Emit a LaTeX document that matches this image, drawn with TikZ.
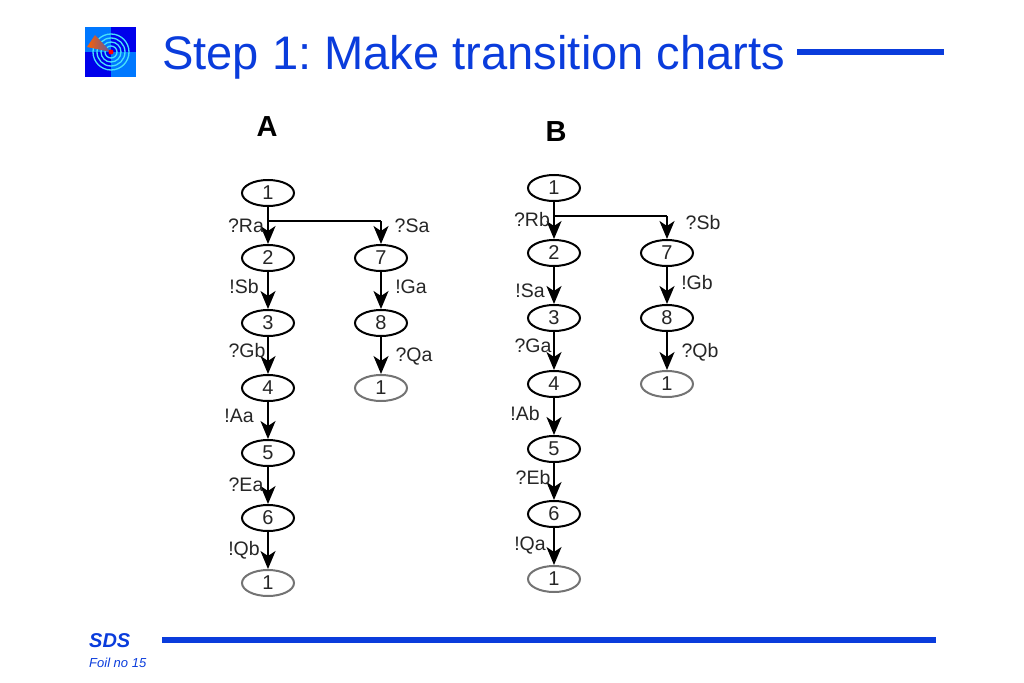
\documentclass[tikz,border=0pt]{standalone}
\usepackage{fontspec}
\setmainfont{Liberation Sans}
\usetikzlibrary{arrows.meta,shapes.geometric}
\definecolor{sdsblue}{RGB}{10,60,220}
\definecolor{logodark}{RGB}{0,0,235}
\definecolor{logolight}{RGB}{0,120,255}
\definecolor{logoring}{RGB}{70,225,250}
\frenchspacing
\tikzset{
  st/.style={ellipse,draw=black,line width=2pt,minimum width=52pt,minimum height=26pt,inner sep=0pt,font=\fontsize{20}{20}\selectfont,text=black!85},
  fin/.style={st,draw=black!55},
  lb/.style={font=\fontsize{19.5}{20}\selectfont,text=black!85,inner sep=0pt},
  hd/.style={font=\fontsize{29}{29}\selectfont\bfseries,inner sep=0pt},
  ar/.style={line width=2.2pt,-{Stealth[length=18pt,width=15pt,inset=5pt]}},
  br/.style={line width=2.2pt},
  ttl/.style={font=\fontsize{47.1}{47}\selectfont,text=sdsblue,inner sep=0pt,anchor=base west}
}
\begin{document}
\begin{tikzpicture}[x=1pt,y=-1pt]
\useasboundingbox (0,0) rectangle (1024,682);
% logo
\fill[logodark] (85,27) rectangle (136,77);
\fill[logolight] (85,27) rectangle (111,52);
\fill[logolight] (111,52) rectangle (136,77);
\foreach \r in {6,10,14,18}{\draw[logoring,line width=1.3pt] (111,52) circle (\r);}
\shade[left color=orange!75!red,right color=gray!70!blue] (95,35) -- (87,47) -- (111,52) -- cycle;
\fill[red] (111,52) circle (2.5);
% title
\node[ttl] (title) at (162,70) {Step 1: Make transition charts};
\coordinate (ruleA) at (797,52);
\coordinate (ruleB) at (944,52);
\draw[sdsblue,line width=5.5pt] (ruleA) -- (ruleB);
% footer
\node[font=\fontsize{20}{20}\selectfont\bfseries\itshape,text=sdsblue,inner sep=0pt,anchor=west] (sds) at (89,641) {SDS};
\node[font=\fontsize{13}{13}\selectfont\itshape,text=sdsblue,inner sep=0pt,anchor=west] (foil) at (89,663) {Foil no 15};
\coordinate (footA) at (162,640);
\coordinate (footB) at (936,640);
\draw[sdsblue,line width=5.5pt] (footA) -- (footB);
% chart A
\node[hd] (hA) at (267,127) {A};
\node[st] (a1) at (268,193) {1};
\node[st] (a2) at (268,258) {2};
\node[st] (a3) at (268,323) {3};
\node[st] (a4) at (268,388) {4};
\node[st] (a5) at (268,453) {5};
\node[st] (a6) at (268,518) {6};
\node[fin] (a7e) at (268,583) {1};
\node[st] (a7) at (381,258) {7};
\node[st] (a8) at (381,323) {8};
\node[fin] (a9) at (381,388) {1};
\coordinate (aj) at (268,221);
\coordinate (ac) at (381,221);
\draw[ar] (a1) -- (a2);
\draw[br] (aj) -- (ac);
\draw[ar] (ac) -- (a7);
\draw[ar] (a2) -- (a3);
\draw[ar] (a3) -- (a4);
\draw[ar] (a4) -- (a5);
\draw[ar] (a5) -- (a6);
\draw[ar] (a6) -- (a7e);
\draw[ar] (a7) -- (a8);
\draw[ar] (a8) -- (a9);
\node[lb] (la1) at (246,226) {?Ra};
\node[lb] (la2) at (244,287) {!Sb};
\node[lb] (la3) at (247,351) {?Gb};
\node[lb] (la4) at (239,416) {!Aa};
\node[lb] (la5) at (246,485) {?Ea};
\node[lb] (la6) at (244,550) {!Qb};
\node[lb] (la7) at (412,226) {?Sa};
\node[lb] (la8) at (411,287) {!Ga};
\node[lb] (la9) at (414,357) {?Qa};
% chart B
\node[hd] (hB) at (556,132) {B};
\node[st] (b1) at (554,188) {1};
\node[st] (b2) at (554,253) {2};
\node[st] (b3) at (554,318) {3};
\node[st] (b4) at (554,384) {4};
\node[st] (b5) at (554,449) {5};
\node[st] (b6) at (554,514) {6};
\node[fin] (b7e) at (554,579) {1};
\node[st] (b7) at (667,253) {7};
\node[st] (b8) at (667,318) {8};
\node[fin] (b9) at (667,384) {1};
\coordinate (bj) at (554,216);
\coordinate (bc) at (667,216);
\draw[ar] (b1) -- (b2);
\draw[br] (bj) -- (bc);
\draw[ar] (bc) -- (b7);
\draw[ar] (b2) -- (b3);
\draw[ar] (b3) -- (b4);
\draw[ar] (b4) -- (b5);
\draw[ar] (b5) -- (b6);
\draw[ar] (b6) -- (b7e);
\draw[ar] (b7) -- (b8);
\draw[ar] (b8) -- (b9);
\node[lb] (lb1) at (532,220) {?Rb};
\node[lb] (lb2) at (530,291) {!Sa};
\node[lb] (lb3) at (533,346) {?Ga};
\node[lb] (lb4) at (525,414) {!Ab};
\node[lb] (lb5) at (533,478) {?Eb};
\node[lb] (lb6) at (530,546) {!Qa};
\node[lb] (lb7) at (703,223) {?Sb};
\node[lb] (lb8) at (697,283) {!Gb};
\node[lb] (lb9) at (700,352) {?Qb};
\end{tikzpicture}
\end{document}
